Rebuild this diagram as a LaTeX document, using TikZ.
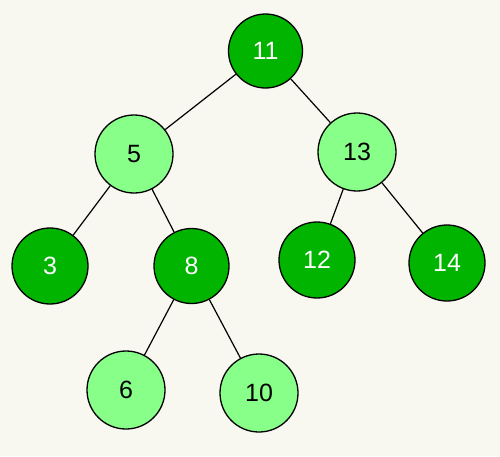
\documentclass[tikz,border=0pt]{standalone}
\usepackage{fontspec}
\setmainfont{Liberation Sans}
\definecolor{bg}{RGB}{248,248,240}
\definecolor{darkg}{RGB}{0,180,0}
\definecolor{lightg}{RGB}{136,255,136}
\begin{document}
\begin{tikzpicture}[x=1pt,y=-1pt,
  tn/.style={circle,draw=black,line width=1.3pt,inner sep=0pt,font=\fontsize{25}{27}\selectfont},
  dk/.style={tn,fill=darkg,text=white},
  lt/.style={tn,fill=lightg,text=black},
  edge/.style={draw=black,line width=1.2pt}]
\fill[bg] (0,0) rectangle (500,456);
\useasboundingbox (0,0) rectangle (500,456);
\node[dk,minimum size=74pt] (n11) at (265.5,51) {11};
\node[lt,minimum size=78pt] (n5) at (134,154) {5};
\node[lt,minimum size=78pt] (n13) at (357,152) {13};
\node[dk,minimum size=76pt] (n3) at (50,266) {3};
\node[dk,minimum size=75pt] (n8) at (191.5,266) {8};
\node[dk,minimum size=76pt] (n12) at (317,260) {12};
\node[dk,minimum size=76pt] (n14) at (447,263) {14};
\node[lt,minimum size=78pt] (n6) at (126,390) {6};
\node[lt,minimum size=78pt] (n10) at (259,393) {10};
\draw[edge] (n11) -- (n5);
\draw[edge] (n11) -- (n13);
\draw[edge] (n5) -- (n3);
\draw[edge] (n5) -- (n8);
\draw[edge] (n13) -- (n12);
\draw[edge] (n13) -- (n14);
\draw[edge] (n8) -- (n6);
\draw[edge] (n8) -- (n10);
\end{tikzpicture}
\end{document}
